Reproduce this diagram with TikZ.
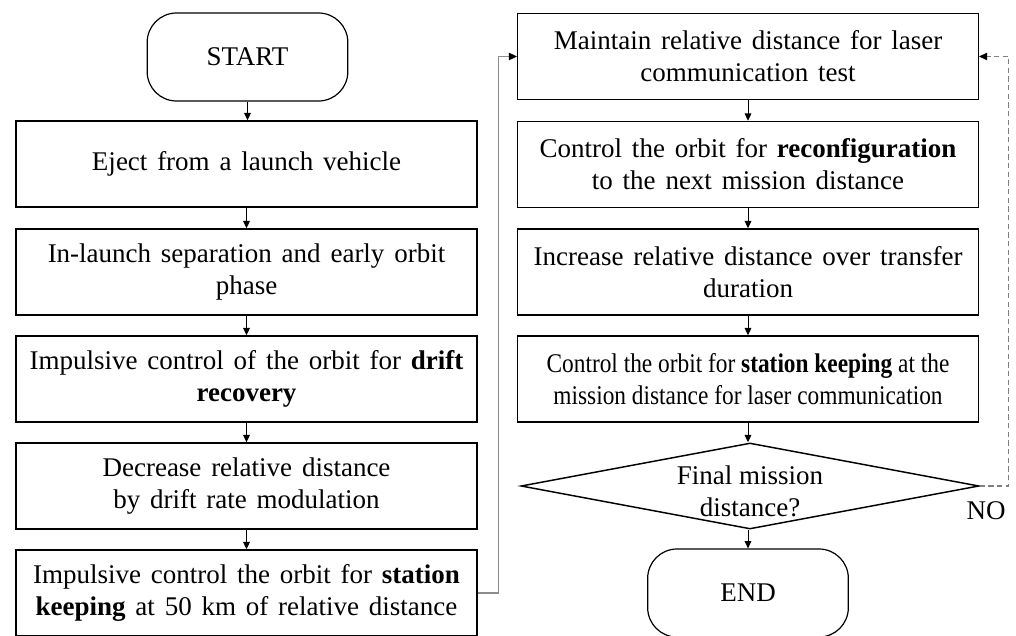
\documentclass[tikz,border=0pt]{standalone}
\usepackage{fontspec}
\setmainfont{Liberation Serif}
\newfontfamily\wfont{Liberation Serif}[WordSpace=1.45]
\usetikzlibrary{arrows.meta,shapes.geometric}
\begin{document}
\begin{tikzpicture}[x=0.75pt,y=-0.75pt,
  txt/.style={font=\wfont\fontsize{20.25}{24}\selectfont},
  ntxt/.style={font=\fontsize{20.25}{24}\selectfont},
  box/.style={txt,draw=black,line width=1.1pt,minimum width=345.5pt,minimum height=64.5pt,inner sep=0pt,align=center},
  term/.style={ntxt,draw=black,line width=0.9pt,rounded corners=22pt,minimum width=150.5pt,minimum height=66pt,inner sep=0pt},
  decision/.style={draw=black,diamond,line width=1.1pt,minimum width=343.5pt,minimum height=64.5pt,inner sep=0pt},
  arr/.style={draw=black,line width=0.75pt,-{Triangle[length=5.5pt,width=5pt]}},
  link/.style={draw=black!45,line width=1.1pt,-{Triangle[length=6pt,width=5.5pt,color=black]}},
  loopback/.style={draw=black!50,line width=0.8pt,dash pattern=on 4pt off 2.5pt,-{Triangle[length=6pt,width=5.5pt,color=black]}}
]
\path[use as bounding box,fill=white] (0,0) rectangle (1016,635);

% left column
\node[term] (start) at (247.5,57) {START};
\node[box] (b1) at (246.5,164) {Eject from a launch vehicle};
\node[box] (b2) at (246.5,272) {In-launch separation and early orbit\\phase};
\node[box] (b3) at (246.5,379) {Impulsive control of the orbit for \textbf{drift}\\\textbf{recovery}};
\node[box] (b4) at (246.5,486) {Decrease relative distance\\by drift rate modulation};
\node[box] (b5) at (246.5,593) {Impulsive control the orbit for \textbf{station}\\\textbf{keeping} at 50 km of relative distance};

% right column
\node[box] (r1) at (748,56.5) {Maintain relative distance for laser\\communication test};
\node[box] (r2) at (748,164.5) {Control the orbit for \textbf{reconfiguration}\\to the next mission distance};
\node[box] (r3) at (748,272) {Increase relative distance over transfer\\duration};
\node[box,font=\fontsize{20.25}{24}\selectfont] (r4) at (748,379) {\scalebox{0.865}[1]{Control the orbit for \textbf{station keeping} at the}\\\scalebox{0.865}[1]{mission distance for laser communication}};
\node[decision] (d) at (750,486) {};
\node[ntxt,align=center,inner sep=0pt] (dt) at (750,491) {Final mission\\distance?};
\node[term] (end) at (748,593) {END};
\node[ntxt,inner sep=0pt] (no) at (986,511) {NO};

% connectors
\draw[arr] (start.south) -- (start.south |- b1.north);
\draw[arr] (b1.south) -- (b2.north);
\draw[arr] (b2.south) -- (b3.north);
\draw[arr] (b3.south) -- (b4.north);
\draw[arr] (b4.south) -- (b5.north);
\draw[arr] (r1.south) -- (r2.north);
\draw[arr] (r2.south) -- (r3.north);
\draw[arr] (r3.south) -- (r4.north);
\draw[arr] (r4.south) -- (r4.south |- d.north);
\draw[arr] (d.south -| end.north) -- (end.north);
\draw[link] (b5.east) -- ++(21,0) |- (r1.west);
\draw[loopback] (d.east) -- ++(29,0) |- (r1.east);
\end{tikzpicture}
\end{document}
